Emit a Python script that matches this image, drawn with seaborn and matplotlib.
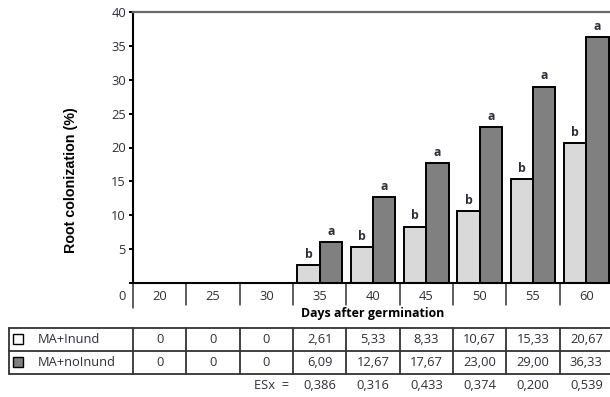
import matplotlib
matplotlib.use("Agg")
import matplotlib.pyplot as plt
import matplotlib.patches as mpatches
import seaborn as sns
import pandas as pd

# data
days = [20, 25, 30, 35, 40, 45, 50, 55, 60]
series = ["MA+Inund", "MA+noInund"]
inund = [0, 0, 0, 2.61, 5.33, 8.33, 10.67, 15.33, 20.67]
noinund = [0, 0, 0, 6.09, 12.67, 17.67, 23.00, 29.00, 36.33]
letters_inund = ["", "", "", "b", "b", "b", "b", "b", "b"]
letters_noinund = ["", "", "", "a", "a", "a", "a", "a", "a"]
esx = ["", "", "", 0.386, 0.316, 0.433, 0.374, 0.200, 0.539]
yticks = [0, 5, 10, 15, 20, 25, 30, 35, 40]

colors = {"MA+Inund": "#d9d9d9", "MA+noInund": "#808080"}
legend_fill = {"MA+Inund": "#fafafa", "MA+noInund": "#808080"}
txt = "#2e2e38"
fs = 9.3

df = pd.DataFrame({
    "Day": [str(d) for d in days] * 2,
    "Serie": [series[0]] * len(days) + [series[1]] * len(days),
    "Val": inund + noinund,
})

sns.set_style("white")
plt.rcParams["font.family"] = ["Open Sans", "DejaVu Sans"]

W, H = 610, 397
fig = plt.figure(figsize=(W / 100, H / 100), dpi=100)


def box(x0, y0, x1, y1):
    return [x0 / W, 1 - y1 / H, (x1 - x0) / W, (y1 - y0) / H]


ax = fig.add_axes(box(133, 12, 613, 283))
sns.barplot(data=df, x="Day", y="Val", hue="Serie", order=[str(d) for d in days],
            hue_order=series, palette=colors, edgecolor="black", linewidth=1.4,
            width=0.84, gap=0, legend=False, errorbar=None, ax=ax)

for cont, labs in zip(ax.containers, [letters_inund, letters_noinund]):
    for bar, lab in zip(cont, labs):
        if lab:
            ax.annotate(lab, (bar.get_x() + bar.get_width() / 2, bar.get_height()),
                        xytext=(0, 3), textcoords="offset points", ha="center",
                        va="bottom", fontsize=8.8, fontweight="bold", color=txt)

ax.set_xlim(-0.5, 8.5)
ax.set_ylim(0, 40)
ax.set_yticks(yticks)
ax.set_yticklabels([""] + [str(v) for v in yticks[1:]], fontsize=fs, color=txt)
ax.tick_params(axis="y", direction="out", length=3, width=1.4, color="black", pad=2, left=True)
ax.set_xticks(range(len(days)))
ax.set_xticklabels([str(d) for d in days], fontsize=fs, color=txt)
ax.tick_params(axis="x", length=0, pad=5)

for s in ["left", "bottom"]:
    ax.spines[s].set_color("black")
    ax.spines[s].set_linewidth(1.5)
ax.spines["top"].set_color("#6a6a6a")
ax.spines["top"].set_linewidth(1.6)
ax.spines["right"].set_visible(False)

ax.set_xlabel("Days after germination", fontsize=8.9, fontweight="bold", labelpad=3,
              color="black")
ax.set_ylabel("Root colonization (%)", fontsize=10.3, fontweight="bold",
              family=["Liberation Sans", "DejaVu Sans"], color="black")
ax.yaxis.set_label_coords(-0.115, 0.38)

# separators of the x axis row
xt = ax.get_xaxis_transform()
for i in range(len(days) + 1):
    y_end = -0.092 if i == 0 else -0.082
    ax.plot([i - 0.5, i - 0.5], [0, y_end], transform=xt, clip_on=False,
            color="#333333", lw=1.1)
fig.text(122 / W, 1 - 296 / H, "0", ha="center", va="center", fontsize=fs, color=txt)

# data table below
tax = fig.add_axes(box(133, 328, 613, 374))
tax.set_xlim(-0.5, 8.5)
tax.set_ylim(2, 0)
tax.axis("off")
left = -2.825
for yy in [0, 1, 2]:
    tax.plot([left, 8.6], [yy, yy], color="#333333", lw=1.3, clip_on=False)
for xx in [left] + [i - 0.5 for i in range(len(days))]:
    tax.plot([xx, xx], [0, 2], color="#333333", lw=1.3, clip_on=False)

for r, (name, vals) in enumerate(zip(series, [inund, noinund])):
    tax.add_patch(mpatches.Rectangle((-2.75, r + 0.26), 0.19, 0.42,
                                     facecolor=legend_fill[name], edgecolor="black",
                                     lw=1.0, clip_on=False))
    tax.text(-2.28, r + 0.5, name, ha="left", va="center", fontsize=fs, color=txt)
    for i, v in enumerate(vals):
        s = "0" if v == 0 else f"{v:.2f}".replace(".", ",")
        tax.text(i, r + 0.5, s, ha="center", va="center", fontsize=fs, color=txt)

tax.text(2.42, 2.48, "ESx  =", ha="right", va="center", fontsize=fs, color=txt)
for i, v in enumerate(esx):
    if v != "":
        tax.text(i, 2.48, f"{v:.3f}".replace(".", ","), ha="center", va="center",
                 fontsize=fs, color=txt)

fig.savefig("out.png", dpi=100)
